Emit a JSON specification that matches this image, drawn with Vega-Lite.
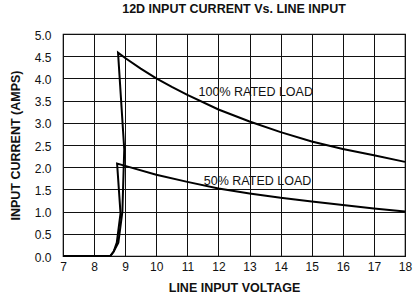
{
  "$schema": "https://vega.github.io/schema/vega-lite/v6.json",
  "width": 342,
  "height": 222,
  "autosize": "none",
  "padding": {"left": 63, "top": 34, "right": 9, "bottom": 47},
  "background": "white",
  "config": {
    "font": "Liberation Sans",
    "view": {"stroke": "black", "strokeWidth": 1.2},
    "axis": {"labelFont": "Liberation Sans", "labelFontSize": 12, "labelColor": "#111", "titleFont": "Liberation Sans", "titleFontSize": 12.5, "titleFontWeight": "bold", "titleColor": "#111"}
  },
  "title": {"text": "12D INPUT CURRENT Vs. LINE INPUT", "font": "Liberation Sans", "fontSize": 12.5, "fontWeight": "bold", "color": "#111", "offset": 14, "anchor": "middle"},
  "datasets": {
    "curves": [
      {"load": "100", "i": 1, "v": 7, "a": 0},
      {"load": "100", "i": 2, "v": 8.52, "a": 0},
      {"load": "100", "i": 3, "v": 8.63, "a": 0.1},
      {"load": "100", "i": 4, "v": 8.78, "a": 0.3},
      {"load": "100", "i": 5, "v": 8.91, "a": 1.0},
      {"load": "100", "i": 6, "v": 8.97, "a": 2.4},
      {"load": "100", "i": 7, "v": 8.77, "a": 4.58},
      {"load": "100", "i": 8, "v": 9.0, "a": 4.46},
      {"load": "100", "i": 9, "v": 9.5, "a": 4.22},
      {"load": "100", "i": 10, "v": 10, "a": 4.0},
      {"load": "100", "i": 11, "v": 10.5, "a": 3.81},
      {"load": "100", "i": 12, "v": 11, "a": 3.63},
      {"load": "100", "i": 13, "v": 12, "a": 3.3},
      {"load": "100", "i": 14, "v": 13, "a": 3.03},
      {"load": "100", "i": 15, "v": 14, "a": 2.79},
      {"load": "100", "i": 16, "v": 15, "a": 2.58},
      {"load": "100", "i": 17, "v": 16, "a": 2.41},
      {"load": "100", "i": 18, "v": 17, "a": 2.27},
      {"load": "100", "i": 19, "v": 18, "a": 2.12},
      {"load": "50", "i": 1, "v": 7, "a": 0},
      {"load": "50", "i": 2, "v": 8.52, "a": 0},
      {"load": "50", "i": 3, "v": 8.63, "a": 0.1},
      {"load": "50", "i": 4, "v": 8.73, "a": 0.3},
      {"load": "50", "i": 5, "v": 8.85, "a": 0.96},
      {"load": "50", "i": 6, "v": 8.74, "a": 2.08},
      {"load": "50", "i": 7, "v": 9.0, "a": 2.03},
      {"load": "50", "i": 8, "v": 10, "a": 1.83},
      {"load": "50", "i": 9, "v": 11, "a": 1.67},
      {"load": "50", "i": 10, "v": 12, "a": 1.52},
      {"load": "50", "i": 11, "v": 13, "a": 1.41},
      {"load": "50", "i": 12, "v": 14, "a": 1.31},
      {"load": "50", "i": 13, "v": 15, "a": 1.23},
      {"load": "50", "i": 14, "v": 16, "a": 1.15},
      {"load": "50", "i": 15, "v": 17, "a": 1.07},
      {"load": "50", "i": 16, "v": 18, "a": 1.0}
    ],
    "labels": [
      {"v": 11.36, "a": 3.7, "t": "100% RATED LOAD"},
      {"v": 11.53, "a": 1.7, "t": "50% RATED LOAD"}
    ]
  },
  "encoding": {
    "x": {"field": "v", "type": "quantitative", "scale": {"domain": [7, 18], "nice": false, "zero": false}, "axis": {"values": [7,8,9,10,11,12,13,14,15,16,17,18], "grid": true, "gridColor": "#111", "gridOpacity": 1, "gridWidth": 1, "domain": false, "ticks": false, "labelOverlap": false, "labelFlush": false, "title": "LINE INPUT VOLTAGE", "labelPadding": 5, "titlePadding": 9}},
    "y": {"field": "a", "type": "quantitative", "scale": {"domain": [0, 5], "nice": false}, "axis": {"values": [0,0.5,1,1.5,2,2.5,3,3.5,4,4.5,5], "grid": true, "gridColor": "#111", "gridOpacity": 1, "gridWidth": 1, "domain": false, "ticks": false, "labelOverlap": false, "labelFlush": false, "labelOffset": 1, "format": ".1f", "title": "INPUT CURRENT (AMPS)", "labelPadding": 12, "titlePadding": 12}}
  },
  "layer": [
    {
      "data": {"name": "curves"},
      "mark": {"type": "line", "color": "black", "strokeWidth": 2, "strokeJoin": "miter"},
      "encoding": {
        "detail": {"field": "load"},
        "order": {"field": "i", "type": "quantitative"}
      }
    },
    {
      "data": {"name": "labels"},
      "mark": {"type": "text", "align": "left", "baseline": "middle", "fontSize": 12.5, "font": "Liberation Sans", "color": "#111"},
      "encoding": {
        "text": {"field": "t"}
      }
    }
  ]
}
